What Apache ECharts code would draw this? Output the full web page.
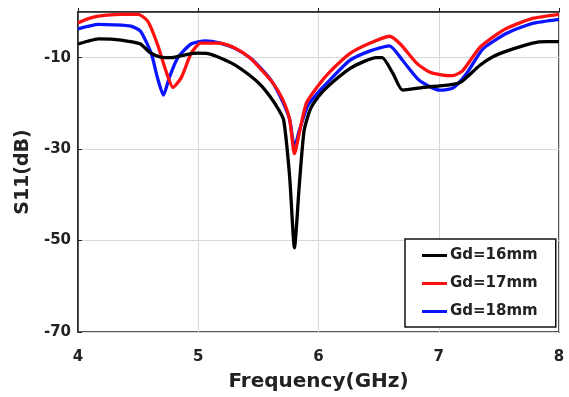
<!DOCTYPE html>
<html><head><meta charset="utf-8">
<script src="https://cdn.jsdelivr.net/npm/echarts@6/dist/echarts.min.js"></script>
<style>html,body{margin:0;padding:0;background:#fff}#c{width:569px;height:397px}</style>
</head><body><div id="c"></div>
<script>
var seriesNames = ['Gd=16mm', 'Gd=17mm', 'Gd=18mm'];
var xTicks = [4, 5, 6, 7, 8];
var yTicks = [-70, -50, -30, -10];

var freq16 = [4.0, 4.08, 4.17, 4.3, 4.42, 4.52, 4.6, 4.68, 4.78, 4.9, 5.0, 5.08, 5.18, 5.3, 5.43, 5.52, 5.6, 5.66, 5.71, 5.76, 5.80, 5.84, 5.88, 5.93, 6.0, 6.09, 6.26, 6.38, 6.48, 6.53, 6.62, 6.70, 6.87, 7.07, 7.18, 7.34, 7.45, 7.57, 7.78, 7.9, 8.0];
var s11_16 = [-7.0, -6.4, -5.9, -6.0, -6.4, -7.0, -8.9, -9.8, -10.0, -9.3, -9.0, -9.1, -10.0, -11.5, -13.9, -16.0, -18.6, -21.0, -23.6, -36.0, -51.6, -38.0, -26.0, -21.4, -18.5, -16.0, -12.4, -10.8, -10.0, -10.0, -13.5, -17.1, -16.5, -16.0, -15.4, -11.7, -9.8, -8.5, -6.8, -6.5, -6.5];

var freq17 = [4.0, 4.08, 4.17, 4.35, 4.5, 4.58, 4.66, 4.73, 4.79, 4.86, 4.94, 5.02, 5.18, 5.3, 5.43, 5.52, 5.62, 5.70, 5.76, 5.80, 5.84, 5.90, 6.0, 6.09, 6.26, 6.43, 6.59, 6.68, 6.82, 6.93, 7.07, 7.12, 7.2, 7.34, 7.45, 7.57, 7.78, 8.0];
var s11_17 = [-2.4, -1.5, -0.9, -0.5, -0.5, -2.0, -7.0, -12.8, -16.5, -14.3, -9.1, -6.8, -6.8, -7.8, -10.0, -12.5, -15.5, -19.0, -23.5, -31.0, -26.5, -19.9, -16.0, -13.2, -9.1, -6.8, -5.3, -7.0, -11.3, -13.2, -13.9, -13.9, -12.8, -7.8, -5.5, -3.5, -1.4, -0.5];

var freq18 = [4.0, 4.17, 4.3, 4.44, 4.52, 4.61, 4.66, 4.71, 4.76, 4.83, 4.94, 5.06, 5.18, 5.3, 5.43, 5.52, 5.62, 5.70, 5.76, 5.80, 5.84, 5.91, 6.0, 6.09, 6.26, 6.43, 6.59, 6.70, 6.84, 7.01, 7.12, 7.23, 7.37, 7.57, 7.78, 8.0];
var s11_18 = [-3.7, -2.7, -2.8, -3.1, -4.2, -9.1, -14.3, -18.2, -14.3, -10.0, -7.0, -6.3, -6.8, -7.9, -10.0, -12.3, -15.5, -19.5, -23.5, -29.6, -26.0, -20.5, -17.5, -15.0, -10.6, -8.5, -7.4, -10.6, -15.0, -17.1, -16.6, -13.5, -8.0, -4.6, -2.5, -1.6];

var colors = ['#000000', '#ff1010', '#0a14ff'];

function pairs(xs, ys) { return xs.map(function (x, i) { return [x, ys[i]]; }); }
var allData = [pairs(freq16, s11_16), pairs(freq17, s11_17), pairs(freq18, s11_18)];

var chart = echarts.init(document.getElementById('c'));
var font = 'DejaVu Sans, sans-serif';
chart.setOption({
  animation: false,
  backgroundColor: '#fff',
  grid: { left: 78, top: 12, right: 10, bottom: 62, show: true, borderColor: '#222', borderWidth: 1.5, backgroundColor: 'transparent' },
  xAxis: {
    type: 'value', min: xTicks[0], max: xTicks[xTicks.length - 1], interval: 1,
    name: 'Frequency(GHz)', nameLocation: 'middle', nameGap: 40,
    nameTextStyle: { fontFamily: font, fontWeight: 'bold', fontSize: 20, color: '#222' },
    axisLine: { show: true, lineStyle: { color: '#222', width: 1.5 } },
    axisTick: { show: true, inside: true, length: 4, lineStyle: { color: '#222' } },
    axisLabel: { fontFamily: font, fontWeight: 'bold', fontSize: 15, color: '#222', margin: 18 },
    splitLine: { show: true, lineStyle: { color: '#d8d8d8', width: 1 } }
  },
  yAxis: {
    type: 'value', min: yTicks[0], max: 0, interval: 20,
    name: 'S11(dB)', nameLocation: 'middle', nameGap: 44,
    nameTextStyle: { fontFamily: font, fontWeight: 'bold', fontSize: 19, color: '#222' },
    axisLine: { show: true, lineStyle: { color: '#222', width: 1.5 } },
    axisTick: { show: true, inside: true, length: 4, lineStyle: { color: '#222' } },
    axisLabel: { fontFamily: font, fontWeight: 'bold', fontSize: 15, color: '#222', margin: 7, showMaxLabel: false },
    splitLine: { show: true, lineStyle: { color: '#d8d8d8', width: 1 } }
  },
  legend: {
    data: seriesNames, orient: 'vertical', left: 405, top: 239,
    backgroundColor: '#fff', borderColor: '#111', borderWidth: 1.5, padding: [9, 18, 8, 17],
    itemGap: 13, itemWidth: 25, itemHeight: 3, icon: 'rect',
    textStyle: { fontFamily: font, fontWeight: 'bold', fontSize: 15, color: '#222', padding: [0, 0, 0, -2] }
  },
  series: allData.map(function (d, i) {
    return {
      name: seriesNames[i], type: 'line', data: d, showSymbol: false, smooth: 0.2,
      lineStyle: { color: colors[i], width: 3.3 }, itemStyle: { color: colors[i] }, z: 3 - i
    };
  })
});
</script></body></html>
